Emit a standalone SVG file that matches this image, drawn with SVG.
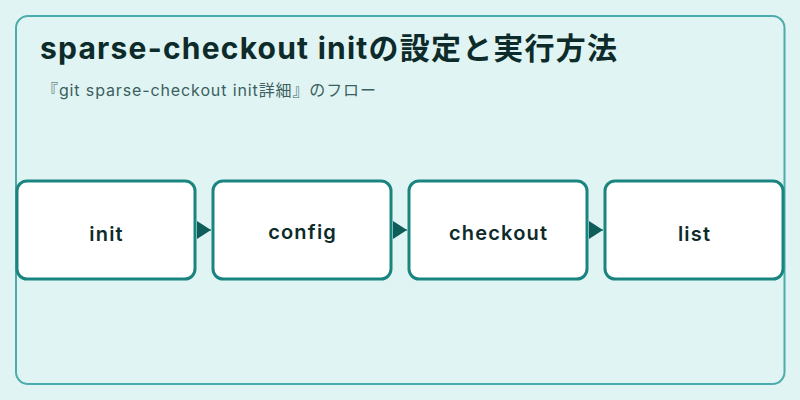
<svg xmlns="http://www.w3.org/2000/svg" width="800" height="400" viewBox="0 0 800 400">
<style>
.node rect{fill:#ffffff;stroke:#1a8580;stroke-width:3}
.node text{font-family:Inter,"Noto Sans CJK JP",sans-serif;font-weight:600;font-size:20px;letter-spacing:1.2px;fill:#0d2b2a;text-anchor:middle}
.edge{stroke:#0d5e5a;stroke-width:1;fill:none}
</style>
<defs>
<marker id="arr" viewBox="0 0 14 18" refX="14" refY="9" markerWidth="14" markerHeight="18" markerUnits="userSpaceOnUse" orient="auto">
<path d="M0,0 L14,9 L0,18 Z" fill="#0d5e5a"/>
</marker>
</defs>
<rect x="0" y="0" width="800" height="400" fill="#e0f4f3"/>
<rect x="16" y="16" width="768.5" height="368" rx="12" fill="#e0f4f3" stroke="#4aacab" stroke-width="2"/>
<text x="40" y="59" textLength="577" lengthAdjust="spacing" font-family="Inter,'Noto Sans CJK JP',sans-serif" font-weight="bold" font-size="30" fill="#0d2b2a">sparse-checkout initの設定と実行方法</text>
<text x="42" y="96" textLength="334" lengthAdjust="spacing" font-family="Inter,'Noto Sans CJK JP',sans-serif" font-size="16" fill="#3b5f5e">『git sparse-checkout init詳細』のフロー</text>
<g id="connectors">
<path class="edge" d="M197,230 L211,230" marker-end="url(#arr)"/>
<path class="edge" d="M393,230 L407,230" marker-end="url(#arr)"/>
<path class="edge" d="M589,230 L603,230" marker-end="url(#arr)"/>
</g>
<g id="init" class="node"><rect x="17" y="181" width="178" height="98" rx="10"/><text x="106.6" y="241">init</text></g>
<g id="config" class="node"><rect x="213" y="181" width="178" height="98" rx="10"/><text x="302.6" y="239">config</text></g>
<g id="checkout" class="node"><rect x="409" y="181" width="178" height="98" rx="10"/><text x="498.6" y="240">checkout</text></g>
<g id="list" class="node"><rect x="605" y="181" width="178" height="98" rx="10"/><text x="694.6" y="241">list</text></g>
</svg>
